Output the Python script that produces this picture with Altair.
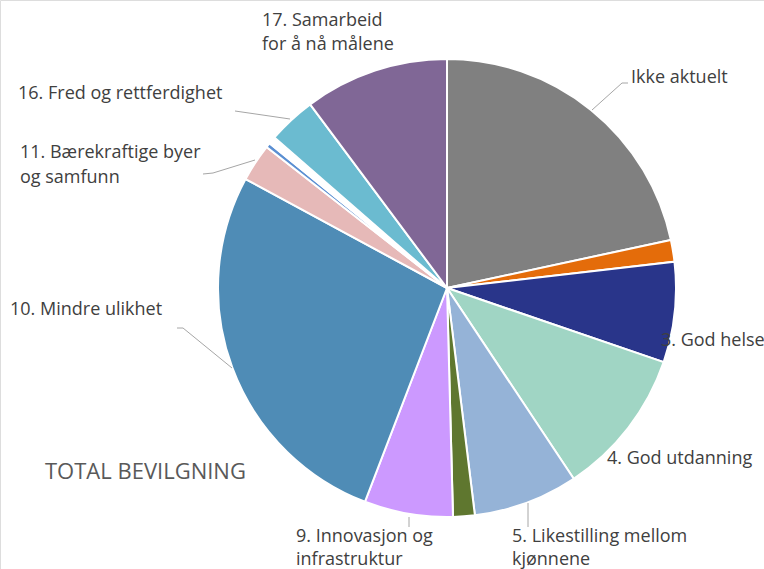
import altair as alt
import pandas as pd

# Slice shares (degrees of the full circle)
categories = ["Ikke aktuelt", "1. Utrydde fattigdom", "3. God helse", "4. God utdanning",
              "5. Likestilling mellom kjønnene", "7. Ren energi", "9. Innovasjon og infrastruktur",
              "10. Mindre ulikhet", "11. Bærekraftige byer og samfunn", "13. Klima", "(tom)",
              "16. Fred og rettferdighet", "17. Samarbeid for å nå målene"]
values = [77.9, 5.5, 25.5, 37.5, 26.6, 5.5, 22.5, 97.4, 9.6, 1.2, 1.9, 12.2, 36.7]
colors = ["#808080", "#E46C0A", "#29358A", "#A0D5C4", "#95B3D7", "#5F772F", "#CC99FF",
          "#4F8CB6", "#E6B9B8", "#5B8FD2", "#FFFFFF", "#6BBBD0", "#806796"]

label_texts = ["Ikke aktuelt", "3. God helse", "4. God utdanning", "5. Likestilling mellom",
               "kjønnene", "9. Innovasjon og", "infrastruktur", "10. Mindre ulikhet",
               "11. Bærekraftige byer", "og samfunn", "16. Fred og rettferdighet",
               "17. Samarbeid", "for å nå målene"]
label_x = [631, 661, 607, 512, 512, 296, 296, 10, 20, 20, 18, 262, 262]
label_y = [78, 341, 459, 537, 560, 537, 560, 310, 153, 178, 94, 21, 45]

# leader line segments (pixel positions)
seg_x = [628, 622, 528, 409, 177, 183, 203, 213, 235]
seg_y = [83, 83, 503, 517, 328, 328, 174, 173, 111]
seg_x2 = [622, 592, 528, 409, 183, 232, 213, 255, 290]
seg_y2 = [83, 110, 527, 527, 328, 368, 173, 160, 119]

pie_df = pd.DataFrame({"cat": categories, "val": values, "order": list(range(len(values)))})
lab_df = pd.DataFrame({"t": label_texts, "x": label_x, "y": label_y})
seg_df = pd.DataFrame({"x": seg_x, "y": seg_y, "x2": seg_x2, "y2": seg_y2})

pie = alt.Chart(pie_df).mark_arc(stroke="white", strokeWidth=2, radius=229).encode(
    theta=alt.Theta("val:Q", stack=True),
    order=alt.Order("order:Q"),
    color=alt.Color("cat:N", scale=alt.Scale(domain=categories, range=colors), legend=None),
    x=alt.value(447),
    y=alt.value(288),
)

segs = alt.Chart(seg_df).mark_rule(color="#A6A6A6", strokeWidth=1).encode(
    x=alt.X("x:Q", scale=None, axis=None),
    y=alt.Y("y:Q", scale=None, axis=None),
    x2="x2:Q",
    y2="y2:Q",
)

labels = alt.Chart(lab_df).mark_text(align="left", baseline="middle", font="Open Sans",
                                     fontSize=18, color="#404040").encode(
    x=alt.X("x:Q", scale=None, axis=None),
    y=alt.Y("y:Q", scale=None, axis=None),
    text="t:N",
)

title = alt.Chart(pd.DataFrame({"t": ["TOTAL BEVILGNING"]})).mark_text(
    align="left", baseline="middle", font="Open Sans", fontSize=22, color="#595959").encode(
    x=alt.value(45), y=alt.value(472), text="t:N")

chart = alt.layer(pie, segs, labels, title).properties(
    width=764, height=569, padding=0, autosize=alt.AutoSizeParams(type="none")
).configure_view(stroke=None).configure(background="white")

chart.save("out.html", embed_options={"renderer": "svg", "actions": False})
